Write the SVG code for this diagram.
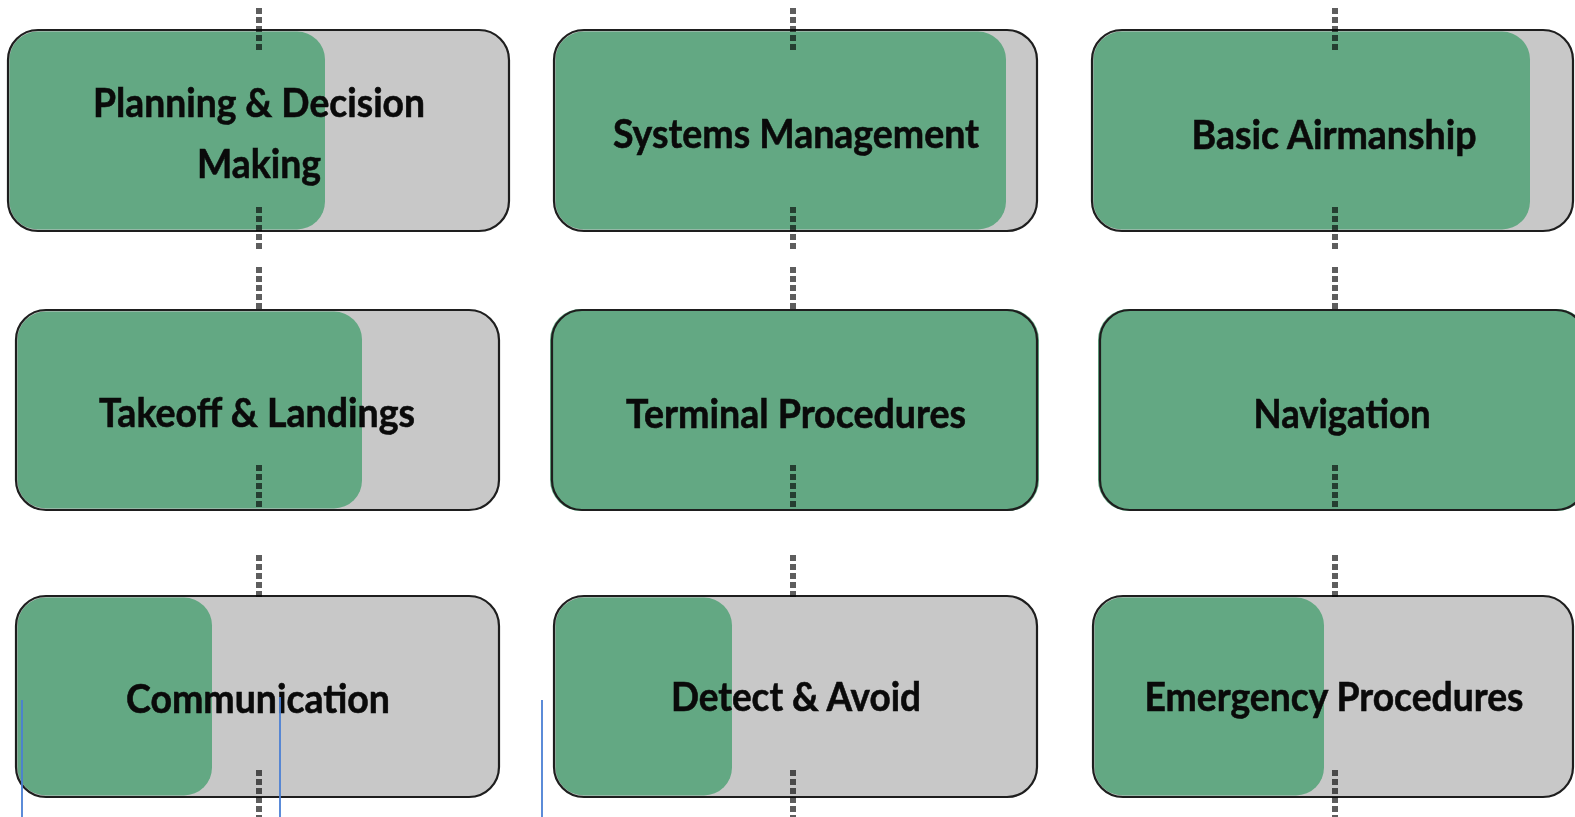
<svg xmlns="http://www.w3.org/2000/svg" width="1575" height="817" viewBox="0 0 1575 817">
  <style>
    .base { fill: #c8c8c8; }
    .fill { fill: #63a883; }
    .edge { fill: none; stroke: #1e1e1e; stroke-width: 2.2; }
    .label { font-family: Lato, "Liberation Sans", sans-serif; font-weight: 700; font-size: 41px; fill: #0a0a0a; text-anchor: middle; stroke: #0a0a0a; stroke-width: 0.6; }
    .dash { stroke: #5e5e5e; stroke-width: 6; stroke-dasharray: 6 3; fill: none; }
    #connectors { mix-blend-mode: multiply; }
    .guide { stroke: #4a7fd4; stroke-width: 1.8; }
  </style>

  <rect width="1575" height="817" fill="#ffffff"/>

  <!-- Row 1 -->
  <g id="node-planning">
    <rect class="base" x="8" y="30" width="501" height="201" rx="30"/>
    <rect class="fill" x="9.5" y="31.5" width="315.5" height="198" rx="28"/>
    <rect class="edge" x="8" y="30" width="501" height="201" rx="30"/>
    <text class="label" x="259" y="117" textLength="332" lengthAdjust="spacingAndGlyphs">Planning &amp; Decision</text>
    <text class="label" x="259" y="178" textLength="124" lengthAdjust="spacingAndGlyphs">Making</text>
  </g>
  <g id="node-systems">
    <rect class="base" x="554" y="30" width="483" height="201" rx="30"/>
    <rect class="fill" x="555.5" y="31.5" width="450.5" height="198" rx="28"/>
    <rect class="edge" x="554" y="30" width="483" height="201" rx="30"/>
    <text class="label" x="796" y="148" textLength="366" lengthAdjust="spacingAndGlyphs">Systems Management</text>
  </g>
  <g id="node-airmanship">
    <rect class="base" x="1092" y="30" width="481" height="201" rx="30"/>
    <rect class="fill" x="1093.5" y="31.5" width="436.5" height="198" rx="28"/>
    <rect class="edge" x="1092" y="30" width="481" height="201" rx="30"/>
    <text class="label" x="1334" y="149" textLength="285" lengthAdjust="spacingAndGlyphs">Basic Airmanship</text>
  </g>

  <!-- Row 2 -->
  <g id="node-takeoff">
    <rect class="base" x="16" y="310" width="483" height="200" rx="30"/>
    <rect class="fill" x="17.5" y="311.5" width="344.5" height="197" rx="28"/>
    <rect class="edge" x="16" y="310" width="483" height="200" rx="30"/>
    <text class="label" x="257" y="427" textLength="316" lengthAdjust="spacingAndGlyphs">Takeoff &amp; Landings</text>
  </g>
  <g id="node-terminal">
    <rect class="fill" x="550" y="309" width="489" height="202" rx="31"/>
    <rect class="edge" x="552" y="310" width="485" height="200" rx="30"/>
    <text class="label" x="796" y="428" textLength="340" lengthAdjust="spacingAndGlyphs">Terminal Procedures</text>
  </g>
  <g id="node-navigation">
    <rect class="fill" x="1098" y="309" width="490" height="202" rx="31"/>
    <rect class="edge" x="1100" y="310" width="486" height="200" rx="30"/>
    <text class="label" x="1342" y="428" textLength="177" lengthAdjust="spacingAndGlyphs">Navigation</text>
  </g>

  <!-- Row 3 -->
  <g id="node-communication">
    <rect class="base" x="16" y="596" width="483" height="201" rx="30"/>
    <rect class="fill" x="17.5" y="597.5" width="194.5" height="198" rx="28"/>
    <rect class="edge" x="16" y="596" width="483" height="201" rx="30"/>
    <text class="label" x="258" y="713" textLength="264" lengthAdjust="spacingAndGlyphs">Communication</text>
  </g>
  <g id="node-detect">
    <rect class="base" x="554" y="596" width="483" height="201" rx="30"/>
    <rect class="fill" x="555.5" y="597.5" width="176.5" height="198" rx="28"/>
    <rect class="edge" x="554" y="596" width="483" height="201" rx="30"/>
    <text class="label" x="796" y="711" textLength="250" lengthAdjust="spacingAndGlyphs">Detect &amp; Avoid</text>
  </g>
  <g id="node-emergency">
    <rect class="base" x="1093" y="596" width="480" height="201" rx="30"/>
    <rect class="fill" x="1094.5" y="597.5" width="229.5" height="198" rx="28"/>
    <rect class="edge" x="1093" y="596" width="480" height="201" rx="30"/>
    <text class="label" x="1334" y="711" textLength="379" lengthAdjust="spacingAndGlyphs">Emergency Procedures</text>
  </g>

  <!-- Dotted vertical connectors running down each column -->
  <g id="connectors">
    <path class="dash" d="M259 8V50 M259 207V250 M259 267V310 M259 465V510 M259 555V597 M259 770V817"/>
    <path class="dash" d="M793 8V50 M793 207V250 M793 267V310 M793 465V510 M793 555V597 M793 770V817"/>
    <path class="dash" d="M1335 8V50 M1335 207V250 M1335 267V310 M1335 465V510 M1335 555V597 M1335 770V817"/>
  </g>

  <!-- Thin blue guide lines at the bottom -->
  <g id="guides">
    <line class="guide" x1="22" y1="700" x2="22" y2="817"/>
    <line class="guide" x1="280" y1="697" x2="280" y2="817"/>
    <line class="guide" x1="542" y1="700" x2="542" y2="817"/>
  </g>
</svg>
